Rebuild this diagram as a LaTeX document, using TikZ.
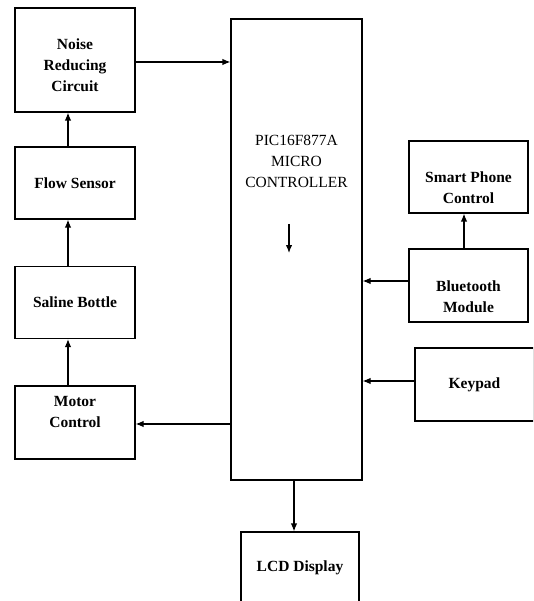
\documentclass[tikz,border=0pt]{standalone}
\usepackage{fontspec}
\setmainfont{Liberation Serif}
\usetikzlibrary{positioning,arrows.meta}

\tikzset{
  blk/.style={rectangle,draw,line width=1.2pt,minimum width=120pt,minimum height=72pt,inner sep=0pt,align=center,font=\fontsize{15.5}{21}\selectfont\bfseries},
  lnk/.style={-{Latex[length=8pt,width=6.5pt]},line width=1.2pt}
}

\begin{document}
\begin{tikzpicture}[x=1pt,y=-1pt]
\useasboundingbox (0,0) rectangle (533,601);
\clip (0,0) rectangle (533,601);

\node[blk,minimum height=104pt] (noise) at (75,60) {\mbox{}\\Noise\\Reducing\\Circuit};
\node[blk] (flow)   at (75,183)   {Flow Sensor};
\node[blk] (saline) at (75,302.5) {Saline Bottle};
\node[blk,minimum height=73pt] (motor)  at (75,422.5) {Motor\\Control\\\mbox{}};

\node[rectangle,draw,line width=1.2pt,minimum width=131pt,minimum height=461pt,
  label={[align=center,font=\fontsize{15.5}{21}\selectfont,yshift=88.5pt]center:PIC16F877A\\MICRO\\CONTROLLER}]
  (mcu) at (296.5,249.5) {};

\node[blk,minimum width=119pt] (smart) at (468.5,177) {\mbox{}\\[12pt]Smart Phone\\Control};
\node[blk,minimum width=119pt,minimum height=73pt] (bt) at (468.5,285.5) {\mbox{}\\[12pt]Bluetooth\\Module};
\node[blk,minimum width=119pt,minimum height=73pt] (key) at (474.5,384.5) {Keypad};
\node[blk,minimum width=118pt] (lcd) at (300,568) {LCD Display};

%left column
\coordinate (lc) at (68,0);
\draw[lnk] (motor.north -| lc) -- (saline.south -| lc);
\draw[lnk] (saline.north -| lc) -- (flow.south -| lc);
\draw[lnk] (flow.north -| lc) -- (noise.south -| lc);

\draw[lnk] ([yshift=-2pt]noise.east) -- ([yshift=-2pt]noise.east -| mcu.west);
\draw[lnk] ([yshift=-1.5pt]motor.east -| mcu.west) -- ([yshift=-1.5pt]motor.east);

%right side
\draw[lnk] ([yshift=4.5pt]bt.west) -- ([yshift=4.5pt]bt.west -| mcu.east);
\draw[lnk] ([yshift=3.5pt]key.west) -- ([yshift=3.5pt]key.west -| mcu.east);
\draw[lnk] ([xshift=-4.5pt]bt.north) -- ([xshift=-4.5pt]smart.south);

\draw[lnk] ([xshift=-6pt]lcd.north |- mcu.south) -- ([xshift=-6pt]lcd.north);

%MCU inner arrow
\coordinate (mcua) at (289,224);
\coordinate (mcub) at (289,253);
\draw[lnk] (mcua) -- (mcub);

\end{tikzpicture}
\end{document}
